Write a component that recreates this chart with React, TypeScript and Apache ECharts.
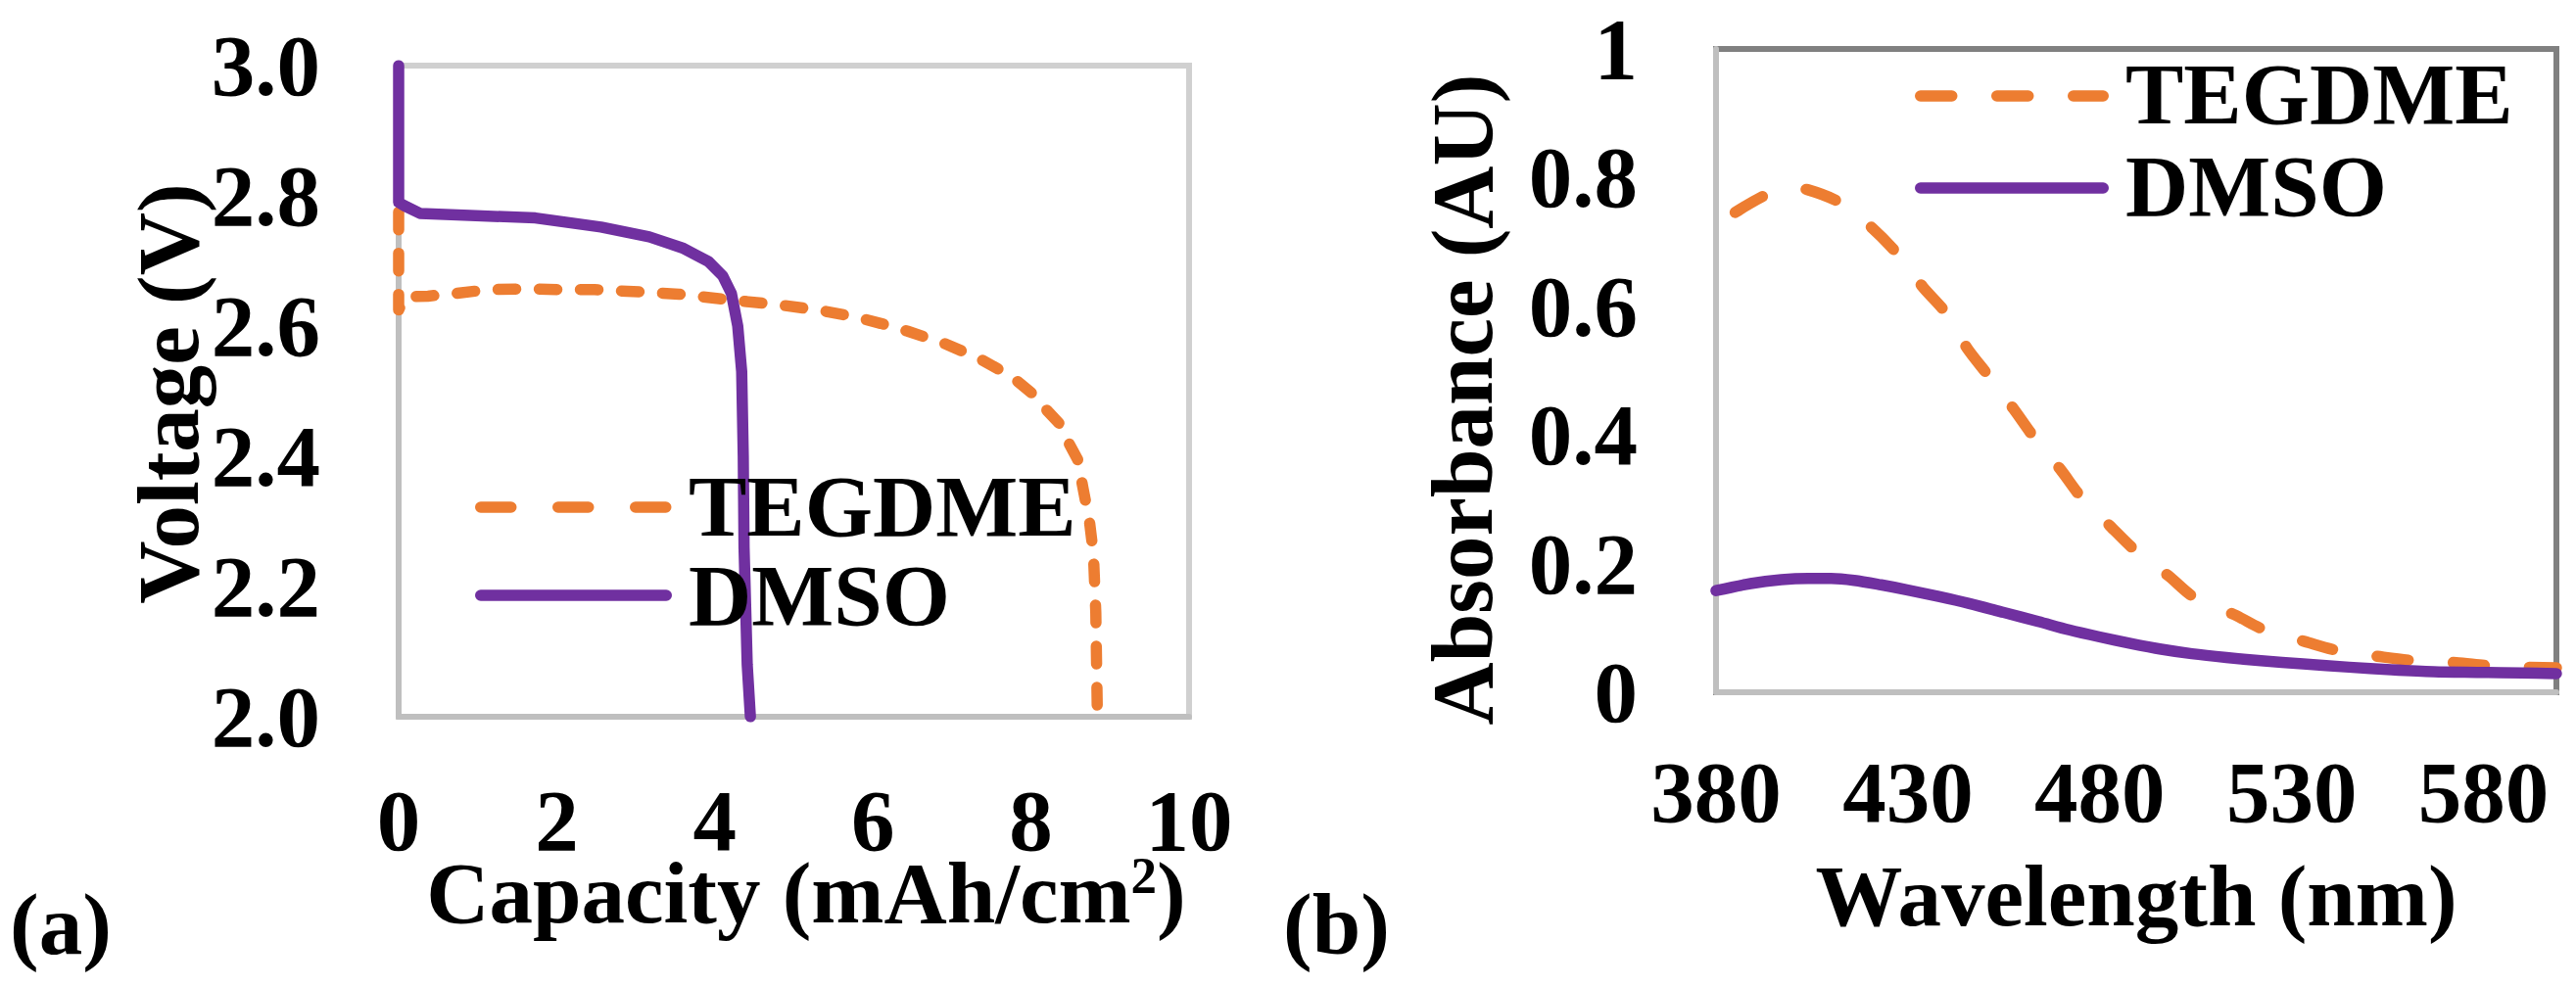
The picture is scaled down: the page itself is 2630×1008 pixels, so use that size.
import React, { useEffect, useRef } from "react";
import * as echarts from "echarts";

// ---------- data: panel (a) discharge curves ----------
const capacityTEGDME = [
  0, 0, 0.08, 0.37, 0.72, 1.13, 1.59, 2.1, 2.48, 2.8, 3.13, 3.55, 3.84, 4.29, 4.79, 5.34,
  5.78, 6.1, 6.44, 6.89, 7.35, 7.76, 8.03, 8.19, 8.36, 8.48, 8.59, 8.66, 8.74, 8.79, 8.82, 8.84,
];
const voltageTEGDME = [
  2.775, 2.625, 2.645, 2.646, 2.65, 2.656, 2.657, 2.656, 2.656, 2.654, 2.652, 2.649, 2.645, 2.639,
  2.633, 2.624, 2.614, 2.604, 2.592, 2.574, 2.55, 2.522, 2.495, 2.472, 2.45, 2.42, 2.395, 2.35,
  2.3, 2.25, 2.16, 2.0,
];
const capacityDMSO = [
  0, 0, 0.07, 0.27, 0.9, 1.73, 2.56, 3.17, 3.59, 3.92, 4.1, 4.21, 4.29, 4.34, 4.36, 4.37, 4.41, 4.45,
];
const voltageDMSO = [
  3.0, 2.79, 2.785, 2.773, 2.77, 2.766, 2.752, 2.737, 2.72, 2.699, 2.677, 2.65, 2.6, 2.53, 2.4,
  2.26, 2.08, 2.0,
];

// ---------- data: panel (b) absorbance spectra ----------
const wavelengthTEGDME = [
  385, 394, 400, 404, 412.7, 420.8, 427.5, 433.9, 440, 445.3, 451, 457.6, 462.9, 469.8, 475.2,
  482.6, 489.5, 497.9, 504.5, 515.3, 522.9, 533.4, 542.6, 552.3, 562.2, 572.9, 581.9, 599,
];
const absorbanceTEGDME = [
  0.746, 0.776, 0.783, 0.781, 0.76, 0.721, 0.68, 0.63, 0.589, 0.536, 0.492, 0.44, 0.396, 0.346,
  0.303, 0.259, 0.219, 0.181, 0.148, 0.12, 0.097, 0.079, 0.064, 0.056, 0.049, 0.046, 0.041, 0.038,
];
const wavelengthDMSO = [
  380, 389, 397, 404, 410, 416, 423, 430, 438, 446, 455, 464, 472, 480, 488, 496, 504, 513, 522,
  533, 545, 556, 567, 579, 590, 599,
];
const absorbanceDMSO = [
  0.158, 0.169, 0.175, 0.177, 0.177, 0.174, 0.167, 0.159, 0.149, 0.138, 0.124, 0.11, 0.097,
  0.086, 0.076, 0.067, 0.06, 0.054, 0.049, 0.044, 0.039, 0.035, 0.032, 0.031, 0.03, 0.029,
];

// ---------- ticks / labels ----------
const wavelengthTickLabels = [380, 430, 480, 530, 580];
const seriesNames = ["TEGDME", "DMSO"];
const panelLabels = ["(a)", "(b)"];

const ORANGE = "#ED7D31";
const PURPLE = "#7030A0";
const FAMILY = "'Liberation Serif', 'Times New Roman', serif";
const FS = 89;
const FONT = `bold ${FS}px ${FAMILY}`;
const LW = 11.5;

const txt = {
  fontFamily: FAMILY,
  fontSize: FS,
  fontWeight: "bold" as const,
  color: "#000",
  lineHeight: FS,
};

function pairs(xs: number[], ys: number[]) {
  return xs.map((x, i) => [x, ys[i]]);
}

function legendLine(x1: number, x2: number, y: number, color: string, dash: number[] | null) {
  return {
    type: "line",
    shape: { x1, y1: y, x2, y2: y },
    style: {
      stroke: color,
      lineWidth: LW,
      lineCap: "round",
      lineDash: dash || undefined,
    },
    z: 10,
  };
}

function label(text: string, x: number, y: number) {
  return {
    type: "text",
    x,
    y,
    style: {
      text,
      font: FONT,
      fill: "#000",
      align: "left",
      verticalAlign: "middle",
      textAlign: "left",
      textVerticalAlign: "middle",
    },
    z: 10,
  };
}

export default function App() {
  const ref = useRef<HTMLDivElement>(null);

  useEffect(() => {
    if (!ref.current) return;
    const chart = echarts.init(ref.current, undefined, { renderer: "svg" });

    const axisLineStyle = { show: true, onZero: false, lineStyle: { color: "#BFBFBF", width: 6 } };

    const option: any = {
      animation: false,
      backgroundColor: "#fff",
      grid: [
        {
          left: 407, top: 67, width: 807, height: 665,
          show: true, borderColor: "#D0D0D0", borderWidth: 6, backgroundColor: "transparent",
          outerBoundsMode: "none", containLabel: false,
        },
        {
          left: 1752, top: 50, width: 858, height: 657,
          show: true, borderColor: "#808080", borderWidth: 6, backgroundColor: "transparent",
          outerBoundsMode: "none", containLabel: false,
        },
      ],
      xAxis: [
        {
          gridIndex: 0, type: "value", min: 0, max: 10, interval: 2,
          axisLine: axisLineStyle, axisTick: { show: false }, splitLine: { show: false },
          axisLabel: { ...txt, margin: 61.5 },
          name: "Capacity (mAh/cm{s|2})", nameLocation: "middle", nameGap: 135.5,
          nameMoveOverlap: false,
          nameTextStyle: {
            ...txt,
            padding: [0, 0, 0, 25],
            rich: {
              s: { fontFamily: FAMILY, fontWeight: "bold", color: "#000", fontSize: 53, lineHeight: 69, verticalAlign: "top" },
            },
          },
        },
        {
          gridIndex: 1, type: "value", min: 380, max: 599, interval: 10,
          axisLine: axisLineStyle, axisTick: { show: false }, splitLine: { show: false },
          axisLabel: {
            ...txt, margin: 57.5,
            formatter: (v: number) => (wavelengthTickLabels.indexOf(Math.round(v)) >= 0 ? String(Math.round(v)) : ""),
          },
          name: "Wavelength (nm)", nameLocation: "middle", nameGap: 163.5,
          nameMoveOverlap: false,
          nameTextStyle: { ...txt },
        },
      ],
      yAxis: [
        {
          gridIndex: 0, type: "value", min: 2, max: 3, interval: 0.2,
          axisLine: axisLineStyle, axisTick: { show: false }, splitLine: { show: false },
          axisLabel: { ...txt, margin: 80, formatter: (v: number) => v.toFixed(1) },
          name: "Voltage (V)", nameLocation: "middle", nameGap: 191, nameRotate: 90,
          nameMoveOverlap: false,
          nameTextStyle: { ...txt, padding: [0, 5, 0, 0] },
        },
        {
          gridIndex: 1, type: "value", min: 0, max: 1, interval: 0.2,
          axisLine: axisLineStyle, axisTick: { show: false }, splitLine: { show: false },
          axisLabel: { ...txt, margin: 80 },
          name: "Absorbance (AU)", nameLocation: "middle", nameGap: 214.5, nameRotate: 90,
          nameMoveOverlap: false,
          nameTextStyle: { ...txt, padding: [0, 59, 0, 0] },
        },
      ],
      series: [
        {
          name: seriesNames[0], type: "line", xAxisIndex: 0, yAxisIndex: 0,
          data: pairs(capacityTEGDME, voltageTEGDME), symbol: "none", z: 3,
          lineStyle: { color: ORANGE, width: LW, type: [18, 24], cap: "round", join: "round" },
        },
        {
          name: seriesNames[1], type: "line", xAxisIndex: 0, yAxisIndex: 0,
          data: pairs(capacityDMSO, voltageDMSO), symbol: "none", z: 4,
          lineStyle: { color: PURPLE, width: LW, type: "solid", cap: "round", join: "round" },
        },
        {
          name: seriesNames[0] + " ", type: "line", xAxisIndex: 1, yAxisIndex: 1,
          data: pairs(wavelengthTEGDME, absorbanceTEGDME), symbol: "none", smooth: 0.3, z: 3,
          lineStyle: { color: ORANGE, width: LW, type: [32, 46], cap: "round", join: "round" },
        },
        {
          name: seriesNames[1] + " ", type: "line", xAxisIndex: 1, yAxisIndex: 1,
          data: pairs(wavelengthDMSO, absorbanceDMSO), symbol: "none", smooth: 0.3, z: 4,
          lineStyle: { color: PURPLE, width: LW, type: "solid", cap: "round", join: "round" },
        },
      ],
      graphic: [
        // legend (a)
        legendLine(490.75, 680.25, 518, ORANGE, [31, 48]),
        legendLine(490.75, 680.25, 608, PURPLE, null),
        label(seriesNames[0], 703, 517),
        label(seriesNames[1], 703, 608),
        // legend (b)
        legendLine(1960.75, 2147.25, 98, ORANGE, [32, 46]),
        legendLine(1960.75, 2147.25, 192, PURPLE, null),
        label(seriesNames[0], 2170, 96),
        label(seriesNames[1], 2170, 190),
        // panel labels
        label(panelLabels[0], 10, 944),
        label(panelLabels[1], 1310, 944),
      ],
    };

    chart.setOption(option);
    return () => chart.dispose();
  }, []);

  return (
    <div
      ref={ref}
      style={{ position: "fixed", left: 0, top: 0, width: 2630, height: 1008, background: "#fff" }}
    />
  );
}
